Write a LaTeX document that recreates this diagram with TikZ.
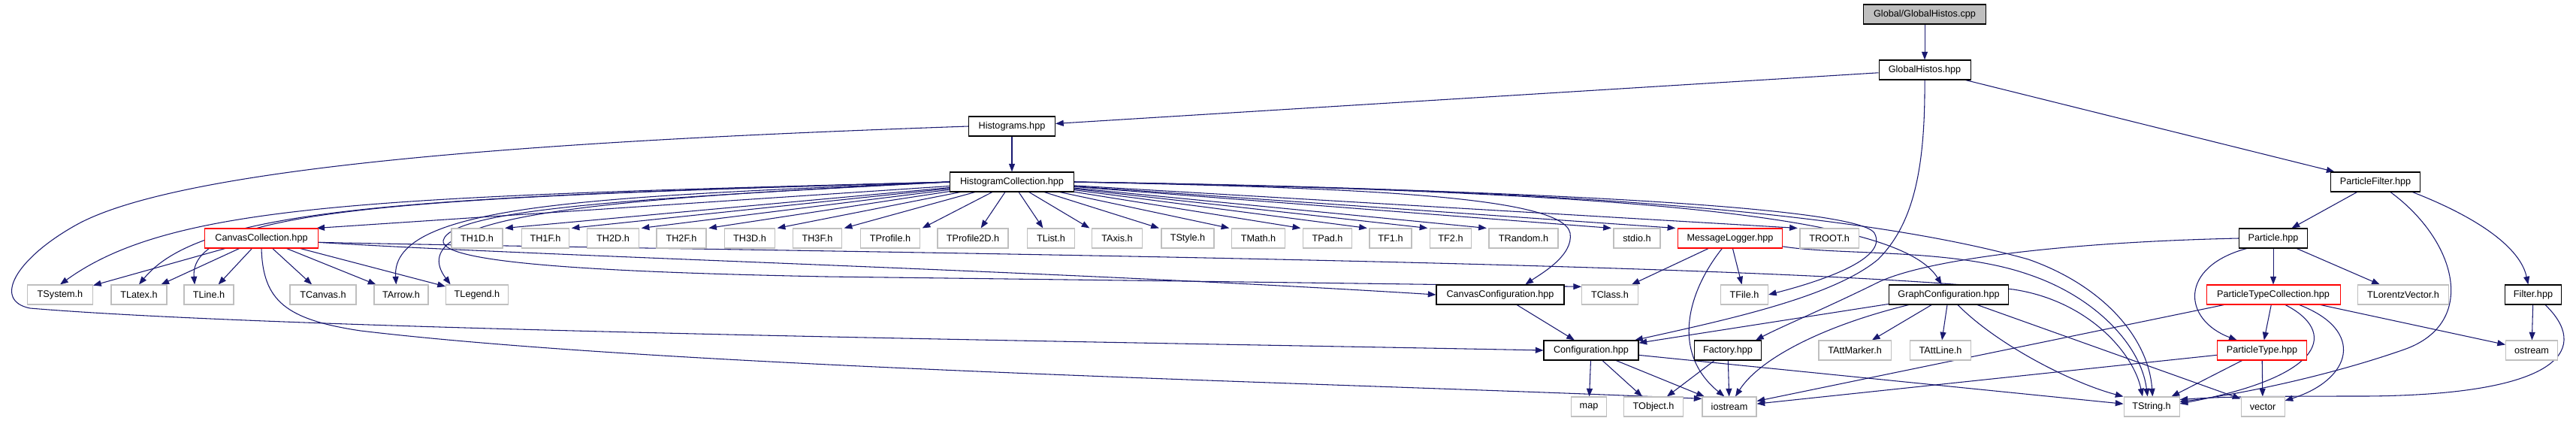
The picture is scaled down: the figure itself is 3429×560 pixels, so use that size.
\documentclass[tikz,border=0pt]{standalone}
\usepackage{fontspec}
\setmainfont{Liberation Sans}
\usetikzlibrary{arrows.meta,backgrounds}
\definecolor{edgeblue}{HTML}{191970}
\definecolor{extgray}{HTML}{BFBFBF}
\definecolor{rootgray}{HTML}{BFBFBF}
\definecolor{truncred}{HTML}{FF0000}
\begin{document}
\begin{tikzpicture}[x=0.75pt,y=-0.75pt,
  base/.style={draw, rectangle, minimum height=19.5pt, inner sep=0pt, fill=white,
    font=\fontsize{9.5}{11}\selectfont, line width=0.8pt},
  ext/.style={base, draw=extgray},
  doc/.style={base, draw=black},
  trunc/.style={base, draw=truncred},
  root/.style={base, draw=black, fill=rootgray},
  w/.style={minimum width=#1*0.75pt},
  conn/.style={draw=edgeblue, line width=0.8pt, -{Triangle[length=8pt,width=6pt]}}]
\useasboundingbox (0,0) rectangle (3429,560);
% ---------- nodes ----------
\node[root,w=163] (cpp) at (2562,19) {Global/GlobalHistos.cpp};
\node[doc,w=122] (gh) at (2562,93) {GlobalHistos.hpp};
\node[doc,w=115] (hist) at (1347,168) {Histograms.hpp};
\node[doc,w=165] (hc) at (1347,242) {HistogramCollection.hpp};
\node[doc,w=119] (pf) at (3162,242) {ParticleFilter.hpp};
% row 317
\node[trunc,w=151] (cc) at (348,317) {CanvasCollection.hpp};
\node[ext,w=68] (th1d) at (635,317) {TH1D.h};
\node[ext,w=63] (th1f) at (726,317) {TH1F.h};
\node[ext,w=69] (th2d) at (816,317) {TH2D.h};
\node[ext,w=66] (th2f) at (907,317) {TH2F.h};
\node[ext,w=67] (th3d) at (998,317) {TH3D.h};
\node[ext,w=65] (th3f) at (1088,317) {TH3F.h};
\node[ext,w=79] (tprof) at (1185,317) {TProfile.h};
\node[ext,w=94] (tprofb) at (1295,317) {TProfile2D.h};
\node[ext,w=63] (tlist) at (1399,317) {TList.h};
\node[ext,w=67] (taxis) at (1487,317) {TAxis.h};
\node[ext,w=70] (tstyle) at (1581,317) {TStyle.h};
\node[ext,w=71] (tmath) at (1675,317) {TMath.h};
\node[ext,w=65] (tpad) at (1767,317) {TPad.h};
\node[ext,w=56] (tfa) at (1851,317) {TF1.h};
\node[ext,w=55] (tfb) at (1931,317) {TF2.h};
\node[ext,w=92] (trandom) at (2028,317) {TRandom.h};
\node[ext,w=62] (stdio) at (2179,317) {stdio.h};
\node[trunc,w=139] (ml) at (2303,317) {MessageLogger.hpp};
\node[ext,w=78] (troot) at (2435,317) {TROOT.h};
\node[doc,w=91] (particle) at (3026,317) {Particle.hpp};
% row 392
\node[ext,w=87] (tsystem) at (80,392) {TSystem.h};
\node[ext,w=74] (tlatex) at (185,392) {TLatex.h};
\node[ext,w=66] (tline) at (278,392) {TLine.h};
\node[ext,w=88] (tcanvas) at (430,392) {TCanvas.h};
\node[ext,w=72] (tarrow) at (534,392) {TArrow.h};
\node[ext,w=83] (tlegend) at (635,392) {TLegend.h};
\node[doc,w=170] (ccfg) at (1997,392) {CanvasConfiguration.hpp};
\node[ext,w=75] (tclass) at (2143,392) {TClass.h};
\node[ext,w=63] (tfile) at (2322,392) {TFile.h};
\node[doc,w=159] (gcfg) at (2594,392) {GraphConfiguration.hpp};
\node[trunc,w=178] (ptc) at (3026,392) {ParticleTypeCollection.hpp};
\node[ext,w=121] (tlv) at (3199,392) {TLorentzVector.h};
\node[doc,w=75] (filter) at (3372,392) {Filter.hpp};
% row 466
\node[doc,w=126] (cfg) at (2118,466) {Configuration.hpp};
\node[doc,w=89] (factory) at (2300,466) {Factory.hpp};
\node[ext,w=96] (tattmarker) at (2469,466) {TAttMarker.h};
\node[ext,w=81] (tattline) at (2583,466) {TAttLine.h};
\node[trunc,w=119] (ptype) at (3011,466) {ParticleType.hpp};
\node[ext,w=69] (ostream) at (3370,466) {ostream};
% row 541
\node[ext,w=47] (map) at (2115,541) {map};
\node[ext,w=79] (tobject) at (2201,541) {TObject.h};
\node[ext,w=72] (iostream) at (2302,541) {iostream};
\node[ext,w=74] (tstring) at (2864,541) {TString.h};
\node[ext,w=58] (vector) at (3012,541) {vector};
% ---------- edges ----------
\begin{scope}[on background layer]
\draw[conn] (cpp) -- (gh);
\draw[conn] (gh) -- (hist);
\draw[conn] (gh) -- (pf);
\draw[conn] (gh.south) .. controls (2563,230) and (2545,300) .. (2500,345)
   .. controls (2440,395) and (2300,425) .. ([xshift=-4pt]cfg.north east);
\draw[conn] (hist) -- (hc);
\draw[conn] (hist.west) .. controls (800,185) and (250,215) .. (100,300)
   .. controls (20,345) and (-10,400) .. (40,410)
   .. controls (400,440) and (1500,455) .. (cfg.west);
% HistogramCollection
\draw[conn] (hc) -- ([xshift=-2pt]cc.north east);
\foreach \t in {th1d,th1f,th2d,th2f,th3d,th3f,tprof}
  \draw[conn] (hc) -- ([xshift=2pt]\t.north east);
\draw[conn] (hc) -- ([xshift=8pt]tprofb.north);
\draw[conn] (hc) -- ([xshift=-8pt]tlist.north);
\foreach \t in {taxis,tstyle,tmath,tpad,tfa,tfb,trandom,stdio,ml,troot}
  \draw[conn] (hc) -- ([xshift=-2pt]\t.north west);
\draw[conn] (hc.west) .. controls (500,262) and (230,270) .. (tsystem.north);
\draw[conn] (hc.west) .. controls (550,262) and (270,275) .. (tlatex.north);
\draw[conn] (hc.west) .. controls (600,262) and (250,272) .. ([xshift=11pt]tline.north west);
\draw[conn] (hc.west) .. controls (800,262) and (520,270) .. ([xshift=-5pt]tarrow.north);
\draw[conn] (hc.west) .. controls (800,265) and (530,285) .. ([xshift=5pt]tlegend.north west);
\draw[conn] (hc.west) .. controls (900,262) and (600,275) .. (590,320)
   .. controls (585,350) and (800,362) .. (1100,368)
   .. controls (1500,373) and (1900,378) .. ([yshift=8pt]tclass.west);
\draw[conn] (hc.east) .. controls (1800,250) and (2080,260) .. (2090,310)
   .. controls (2095,340) and (2050,365) .. ([xshift=25pt]ccfg.north);
\draw[conn] (hc.east) .. controls (1900,250) and (2470,270) .. (2495,310)
   .. controls (2515,345) and (2420,375) .. (tfile.east);
\draw[conn] (hc.east) .. controls (2200,255) and (2530,290) .. ([xshift=-7pt]gcfg.north);
\draw[conn] (hc.east) .. controls (2000,250) and (2450,275) .. (2700,345)
   .. controls (2800,380) and (2860,450) .. ([xshift=1pt]tstring.north);
% CanvasCollection
\foreach \t in {tsystem,tlatex,tline,tcanvas,tarrow,tlegend}
  \draw[conn] (cc) -- (\t);
\draw[conn] ([yshift=-4pt]cc.east) .. controls (700,340) and (1400,360) .. (ccfg.west);
\draw[conn] ([yshift=-4pt]cc.east) .. controls (900,333) and (2300,345) .. (2680,385)
   .. controls (2780,400) and (2840,470) .. ([xshift=-9pt]tstring.north);
\draw[conn] (cc.south) .. controls (350,400) and (380,425) .. (480,440)
   .. controls (900,490) and (1800,510) .. ([yshift=8pt]iostream.west);
% MessageLogger
\draw[conn] (ml) -- (tclass);
\draw[conn] (ml) -- (tfile);
\draw[conn] ([xshift=-8pt]ml.south) .. controls (2245,390) and (2225,470) .. ([xshift=-5pt]iostream.north);
\draw[conn] ([yshift=2pt]ml.south east) .. controls (2450,340) and (2600,330) .. (2700,365)
   .. controls (2790,395) and (2850,460) .. ([xshift=-4pt]tstring.north);
% Configuration, Factory, CanvasConfiguration
\draw[conn] (ccfg) -- (cfg);
\foreach \t in {map,tobject,iostream,tstring}
  \draw[conn] (cfg) -- (\t);
\draw[conn] (factory) -- (tobject);
\draw[conn] (factory) -- (iostream);
% GraphConfiguration
\draw[conn] (gcfg) -- (cfg);
\draw[conn] ([xshift=-40pt]gcfg.south) .. controls (2420,435) and (2340,480) .. ([xshift=6pt]iostream.north);
\draw[conn] (gcfg) -- (tattmarker);
\draw[conn] (gcfg) -- (tattline);
\draw[conn] ([xshift=9pt]gcfg.south) .. controls (2660,460) and (2760,510) .. (tstring.north west);
\draw[conn] (gcfg) -- (vector);
% Particle
\draw[conn] (particle) -- (ptc);
\draw[conn] ([xshift=8pt]particle.south west) .. controls (2900,355) and (2905,425) .. ([xshift=20pt]ptype.north west);
\draw[conn] (particle) -- (tlv);
\draw[conn] (particle.west) .. controls (2750,322) and (2560,345) .. (2497,377)
   .. controls (2430,410) and (2370,435) .. ([xshift=-6pt]factory.north east);
% ParticleTypeCollection
\draw[conn] (ptc) -- (ptype);
\draw[conn] (ptc) -- (iostream);
\draw[conn] ([xshift=12pt]ptc.south) .. controls (3110,440) and (3100,500) .. ([yshift=3pt]tstring.east);
\draw[conn] ([xshift=26pt]ptc.south) .. controls (3150,440) and (3130,505) .. ([yshift=6pt]vector.east);
\draw[conn] (ptc) -- (ostream);
% ParticleType
\draw[conn] (ptype) -- (iostream);
\draw[conn] (ptype) -- (tstring);
\draw[conn] (ptype) -- (vector);
% ParticleFilter
\draw[conn] (pf) -- (particle);
\draw[conn] ([xshift=-8pt]pf.south east) .. controls (3300,290) and (3355,330) .. ([xshift=-5pt]filter.north);
\draw[conn] ([xshift=15pt]pf.south) .. controls (3270,320) and (3300,430) .. (3200,465)
   .. controls (3100,500) and (2980,525) .. ([yshift=5pt]tstring.east);
% Filter
\draw[conn] (filter) -- (ostream);
\draw[conn] ([xshift=12pt]filter.south) .. controls (3445,460) and (3420,525) .. (3150,527)
   .. controls (3000,527) and (2950,528) .. ([yshift=7pt]tstring.east);
\end{scope}
\end{tikzpicture}
\end{document}
